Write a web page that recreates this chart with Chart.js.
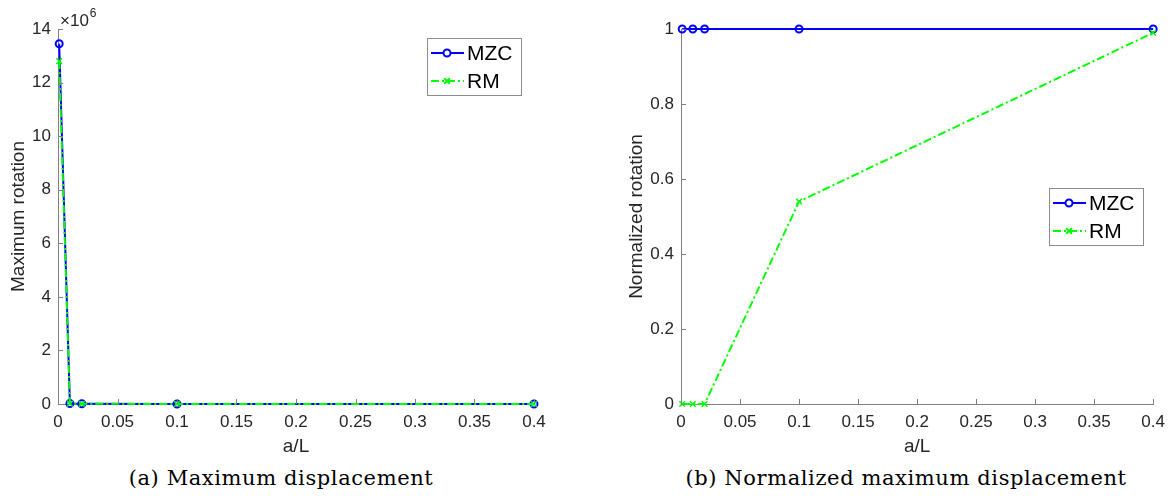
<!DOCTYPE html>
<html>
<head>
<meta charset="utf-8">
<script src="https://cdn.jsdelivr.net/npm/chart.js@4.4.1/dist/chart.umd.min.js"></script>
<style>
  body { margin: 0; background: #fff; width: 1173px; height: 502px; overflow: hidden; position: relative; }
  .box { position: absolute; top: 0; height: 462px; }
  #left { left: 0; width: 586px; }
  #right { left: 586px; width: 587px; }
  .cap { position: absolute; top: 466px; font-family: "DejaVu Serif", "Liberation Serif", serif; font-size: 21px; letter-spacing: 0.6px; color: #000; white-space: nowrap; transform: translateX(-50%); }
</style>
</head>
<body>
<div class="box" id="left"><canvas id="chartA"></canvas></div>
<div class="box" id="right"><canvas id="chartB"></canvas></div>
<div class="cap" style="left:281px">(a) Maximum displacement</div>
<div class="cap" style="left:906px">(b) Normalized maximum displacement</div>
<script>
// a/L values
const aL = [0.001, 0.01, 0.02, 0.1, 0.4];
// left plot: maximum rotation
const mzcRot = [13.45e6, 2.0e4, 1.0e4, 2.0e3, 5.0e2];
const rmRot = [12.8e6, 1.5e4, 8.0e3, 1.5e3, 5.0e2];
// right plot: normalized rotation
const mzcNorm = [1, 1, 1, 1, 1];
const rmNorm = [0, 0, 0, 0.54, 0.99];

const xTicks = [0, 0.05, 0.1, 0.15, 0.2, 0.25, 0.3, 0.35, 0.4];

const blue = '#0000ff';
const green = '#00ff00';
const axisGray = '#808080';
const textCol = '#262626';
const sans = 'Liberation Sans, Arial, sans-serif';
const tickFont = { family: sans, size: 17 };
const titleFont = { family: sans, size: 19 };

function toPts(ys) {
  return aL.map((x, i) => ({ x: x, y: ys[i] }));
}

// ticks pointing into the plot, like MATLAB
const inwardTicks = {
  id: 'inwardTicks',
  afterDraw(chart) {
    const ctx = chart.ctx;
    const area = chart.chartArea;
    ctx.save();
    ctx.strokeStyle = axisGray;
    ctx.lineWidth = 1;
    chart.scales.x.ticks.forEach(t => {
      const px = Math.round(chart.scales.x.getPixelForValue(t.value)) + 0.5;
      ctx.beginPath();
      ctx.moveTo(px, area.bottom);
      ctx.lineTo(px, area.bottom - 5);
      ctx.stroke();
    });
    chart.scales.y.ticks.forEach(t => {
      const py = Math.round(chart.scales.y.getPixelForValue(t.value)) + 0.5;
      ctx.beginPath();
      ctx.moveTo(area.left, py);
      ctx.lineTo(area.left + 5, py);
      ctx.stroke();
    });
    ctx.restore();
  }
};

// legend box drawn inside the axes
const boxLegend = {
  id: 'boxLegend',
  afterDraw(chart, args, opts) {
    const ctx = chart.ctx;
    const x0 = opts.x, y0 = opts.y, w = 94, h = 57;
    ctx.save();
    ctx.fillStyle = '#fff';
    ctx.fillRect(x0, y0, w, h);
    ctx.strokeStyle = '#8c8c8c';
    ctx.lineWidth = 1;
    ctx.strokeRect(x0 + 0.5, y0 + 0.5, w, h);
    chart.data.datasets.forEach((ds, i) => {
      const yy = y0 + 15 + i * 28;
      ctx.strokeStyle = ds.borderColor;
      ctx.lineWidth = ds.borderWidth;
      ctx.setLineDash(ds.borderDash || []);
      ctx.beginPath();
      ctx.moveTo(x0 + 4, yy);
      ctx.lineTo(x0 + 37, yy);
      ctx.stroke();
      ctx.setLineDash([]);
      Chart.helpers.drawPoint(ctx, {
        pointStyle: ds.pointStyle,
        radius: ds.pointRadius,
        borderWidth: ds.pointBorderWidth
      }, x0 + 20, yy);
      ctx.fillStyle = '#000';
      ctx.font = '21px ' + sans;
      ctx.textBaseline = 'middle';
      ctx.fillText(ds.label, x0 + 40, yy + 1);
    });
    ctx.restore();
  }
};

// the x10^6 factor above the y axis
const expLabel = {
  id: 'expLabel',
  afterDraw(chart, args, opts) {
    if (!opts.show) return;
    const ctx = chart.ctx;
    const area = chart.chartArea;
    ctx.save();
    ctx.fillStyle = textCol;
    ctx.textBaseline = 'alphabetic';
    ctx.font = '17px ' + sans;
    ctx.fillText('\u00d710', area.left + 2, area.top - 3);
    const w = ctx.measureText('\u00d710').width;
    ctx.font = '12px ' + sans;
    ctx.fillText('6', area.left + 2 + w + 1, area.top - 12);
    ctx.restore();
  }
};

function makeChart(id, ys1, ys2, yOpts) {
  const ctx = document.getElementById(id).getContext('2d');
  return new Chart(ctx, {
    type: 'line',
    data: {
      datasets: [{
        label: 'MZC',
        data: toPts(ys1),
        borderColor: blue,
        backgroundColor: 'rgba(0,0,0,0)',
        borderWidth: 2,
        pointStyle: 'circle',
        pointRadius: 3.5,
        pointBorderWidth: 2,
        pointBorderColor: blue,
        pointBackgroundColor: 'rgba(0,0,0,0)',
        clip: false,
        order: 1
      }, {
        label: 'RM',
        data: toPts(ys2),
        borderColor: green,
        backgroundColor: 'rgba(0,0,0,0)',
        borderWidth: 2,
        borderDash: [8, 3, 2, 3],
        pointStyle: 'crossRot',
        pointRadius: 4,
        pointBorderWidth: 1.5,
        pointBorderColor: green,
        clip: false,
        order: 0
      }]
    },
    options: {
      responsive: true,
      maintainAspectRatio: false,
      animation: false,
      layout: { padding: yOpts.padding },
      plugins: {
        legend: { display: false },
        tooltip: { enabled: false },
        boxLegend: yOpts.legend,
        expLabel: { show: yOpts.exp }
      },
      scales: {
        x: {
          type: 'linear',
          min: 0,
          max: 0.4,
          afterBuildTicks: s => { s.ticks = xTicks.map(v => ({ value: v })); },
          afterFit: s => { s.height = 58; },
          ticks: {
            color: textCol,
            font: tickFont,
            padding: 8,
            maxRotation: 0,
            callback: v => String(+v.toFixed(2))
          },
          grid: { drawOnChartArea: false, drawTicks: false },
          border: { color: axisGray },
          title: { display: true, text: 'a/L', color: textCol, font: titleFont, padding: { top: 0, bottom: 4 } }
        },
        y: {
          min: 0,
          max: yOpts.max,
          afterBuildTicks: s => { s.ticks = yOpts.ticks.map(v => ({ value: v })); },
          afterFit: s => { s.width = yOpts.width; },
          ticks: {
            color: textCol,
            font: tickFont,
            padding: 7,
            callback: yOpts.fmt
          },
          grid: { drawOnChartArea: false, drawTicks: false },
          border: { color: axisGray },
          title: { display: true, text: yOpts.title, color: textCol, font: titleFont, padding: { top: 7, bottom: 0 } }
        }
      }
    },
    plugins: [inwardTicks, boxLegend, expLabel]
  });
}

makeChart('chartA', mzcRot, rmRot, {
  max: 14e6,
  ticks: [0, 2e6, 4e6, 6e6, 8e6, 10e6, 12e6, 14e6],
  fmt: v => String(Math.round(v / 1e6)),
  title: 'Maximum rotation',
  width: 58,
  padding: { top: 29, right: 52, left: 0, bottom: 0 },
  legend: { x: 427, y: 38 },
  exp: true
});

makeChart('chartB', mzcNorm, rmNorm, {
  max: 1,
  ticks: [0, 0.2, 0.4, 0.6, 0.8, 1],
  fmt: v => String(+v.toFixed(1)),
  title: 'Normalized rotation',
  width: 63,
  padding: { top: 29, right: 16, left: 32, bottom: 0 },
  legend: { x: 463, y: 188 },
  exp: false
});
</script>
</body>
</html>
